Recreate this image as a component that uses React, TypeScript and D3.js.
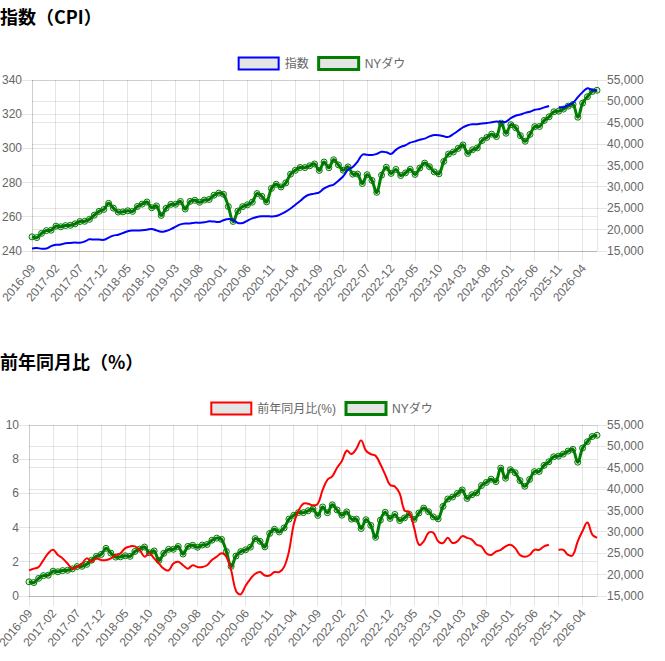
import React from 'react';
import * as d3 from 'd3';

// ---------- data ----------
const categories: string[] = d3.timeMonth
  .range(new Date(2016, 8, 1), new Date(2026, 7, 1))
  .map((d) => d3.timeFormat('%Y-%m')(d));

const xTickLabels: string[] = [
  '2016-09', '2017-02', '2017-07', '2017-12', '2018-05', '2018-10', '2019-03', '2019-08',
  '2020-01', '2020-06', '2020-11', '2021-04', '2021-09', '2022-02', '2022-07', '2022-12',
  '2023-05', '2023-10', '2024-03', '2024-08', '2025-01', '2025-06', '2025-11', '2026-04',
];

const cpiIndex: (number | null)[] = [
  241.428, 241.729, 241.353, 241.432,
  242.839, 243.603, 243.801, 244.524, 244.733, 244.955, 244.786, 245.519, 246.819, 246.663, 246.669, 246.524,
  247.867, 248.991, 249.554, 250.546, 251.588, 251.989, 252.006, 252.146, 252.439, 252.885, 252.038, 251.233,
  251.712, 252.776, 254.202, 255.548, 256.092, 256.143, 256.571, 256.558, 256.759, 257.346, 257.208, 256.974,
  257.971, 258.678, 258.115, 256.389, 256.394, 257.797, 259.101, 259.918, 260.28, 260.388, 260.229, 260.474,
  261.582, 263.014, 264.877, 267.054, 269.195, 271.696, 273.003, 273.567, 274.31, 276.589, 277.948, 278.802,
  281.148, 283.716, 287.504, 289.109, 292.296, 296.311, 296.276, 296.171, 296.808, 298.012, 297.711, 296.797,
  299.17, 300.84, 301.836, 303.363, 304.127, 305.109, 305.691, 307.026, 307.789, 307.671, 307.051, 306.746,
  308.417, 310.326, 312.332, 313.548, 314.069, 314.175, 314.54, 314.796, 315.301, 315.664, 315.493, 315.605,
  317.671, 319.082, 319.799, 320.795, 321.465, 322.561, 323.048, 323.976, 324.8, null, 324.122, 324.054,
  325.4, 326.7, 330.0, 332.9, 335.2, 334.1, 334.0,
];

const cpiYoY: (number | null)[] = [
  1.5, 1.6, 1.7, 2.1,
  2.5, 2.7, 2.4, 2.2, 1.9, 1.6, 1.7, 1.9, 2.2, 2.0, 2.2, 2.1,
  2.1, 2.2, 2.4, 2.5, 2.8, 2.9, 2.9, 2.7, 2.3, 2.5, 2.2, 1.9,
  1.6, 1.5, 1.9, 2.0, 1.8, 1.6, 1.8, 1.7, 1.7, 1.8, 2.1, 2.3,
  2.5, 2.3, 1.5, 0.3, 0.1, 0.6, 1.0, 1.3, 1.4, 1.2, 1.2, 1.4,
  1.4, 1.7, 2.6, 4.2, 5.0, 5.4, 5.4, 5.3, 5.4, 6.2, 6.8, 7.0,
  7.5, 7.9, 8.5, 8.3, 8.6, 9.1, 8.5, 8.3, 8.2, 7.7, 7.1, 6.5,
  6.4, 6.0, 5.0, 4.9, 4.0, 3.0, 3.2, 3.7, 3.7, 3.2, 3.1, 3.4,
  3.1, 3.2, 3.5, 3.4, 3.3, 3.0, 2.9, 2.5, 2.4, 2.6, 2.7, 2.9,
  3.0, 2.8, 2.4, 2.3, 2.4, 2.7, 2.7, 2.9, 3.0, null, 2.7, 2.7,
  2.4, 2.4, 3.2, 3.8, 4.3, 3.6, 3.4,
];

const nyDow: number[] = [
  18308, 18142, 19124, 19763,
  19864, 20812, 20663, 20941, 21009, 21350, 21891, 21948, 22405, 23377, 24272, 24719,
  26149, 25029, 24103, 24163, 24416, 24271, 25415, 25965, 26458, 25116, 25538, 23327,
  24999, 25916, 25929, 26593, 24815, 26600, 26864, 26403, 26917, 27046, 28051, 28538,
  28256, 25409, 21917, 24346, 25383, 25813, 26428, 28430, 27782, 26502, 29639, 30606,
  29983, 30932, 32982, 33875, 34529, 34503, 34935, 35361, 33844, 35820, 34484, 36338,
  35132, 33893, 34678, 32977, 32990, 30775, 32845, 31510, 28726, 32733, 34590, 33147,
  34086, 32657, 33274, 34098, 32908, 34408, 35560, 34722, 33508, 33053, 35951, 37690,
  38150, 38996, 39807, 37816, 38686, 39119, 40843, 41563, 42330, 41763, 44911, 42544,
  44545, 43841, 42002, 40669, 42270, 44095, 44131, 45545, 46398, 47563, 47716, 48200,
  48900, 49300, 46300, 49600, 51100, 52300, 52600,
];

const cpiTicks = [240, 260, 280, 300, 320, 340];
const yoyTicks = [0, 2, 4, 6, 8, 10];
const dowTicks = [15000, 20000, 25000, 30000, 35000, 40000, 45000, 50000, 55000];

// ---------- helpers ----------
type Area = { l: number; r: number; t: number; b: number };

// Chart.js v2 style spline (tension 0.4, control points capped to chart area)
const chartJsCurve = (area: Area, tension = 0.4) => (context: any) => {
  let pts: [number, number][] = [];
  return {
    areaStart() {},
    areaEnd() {},
    lineStart() {
      pts = [];
    },
    point(x: number, y: number) {
      pts.push([+x, +y]);
    },
    lineEnd() {
      const m = pts.length;
      if (!m) return;
      const cap = (x: number, y: number): [number, number] => [
        Math.max(area.l, Math.min(area.r, x)),
        Math.max(area.t, Math.min(area.b, y)),
      ];
      const cps = pts.map((cur, k) => {
        const prev = k > 0 ? pts[k - 1] : cur;
        const next = k < m - 1 ? pts[k + 1] : cur;
        const d01 = Math.hypot(cur[0] - prev[0], cur[1] - prev[1]);
        const d12 = Math.hypot(next[0] - cur[0], next[1] - cur[1]);
        let s01 = d01 / (d01 + d12);
        let s12 = d12 / (d01 + d12);
        if (!isFinite(s01)) s01 = 0;
        if (!isFinite(s12)) s12 = 0;
        const fa = tension * s01;
        const fb = tension * s12;
        return {
          pr: cap(cur[0] - fa * (next[0] - prev[0]), cur[1] - fa * (next[1] - prev[1])),
          nx: cap(cur[0] + fb * (next[0] - prev[0]), cur[1] + fb * (next[1] - prev[1])),
        };
      });
      context.moveTo(pts[0][0], pts[0][1]);
      for (let k = 1; k < m; k++) {
        context.bezierCurveTo(
          cps[k - 1].nx[0], cps[k - 1].nx[1],
          cps[k].pr[0], cps[k].pr[1],
          pts[k][0], pts[k][1]
        );
      }
    },
  };
};

const crisp = (v: number) => Math.round(v - 0.5) + 0.5;

const GRID = 'rgba(0,0,0,0.1)';
const TICK_FONT = '"Liberation Sans", Arial, "Noto Sans CJK JP", sans-serif';
const TICK_COLOR = '#666';

type LegendItem = { label: string; color: string; width: number; textW: number };

type PanelProps = {
  dy: number;
  title: string;
  plotLeft: number;
  leftTicks: number[];
  primary: (number | null)[];
  primaryColor: string;
  legend: LegendItem[];
};

function Panel({ dy, title, plotLeft, leftTicks, primary, primaryColor, legend }: PanelProps) {
  const top = 80 + dy;
  const bottom = 251 + dy;
  const right = 597;
  const area: Area = { l: plotLeft, r: right, t: top, b: bottom };

  const x = d3.scalePoint<string>().domain(categories).range([plotLeft, right]).padding(0);
  const yL = d3.scaleLinear().domain([leftTicks[0], leftTicks[leftTicks.length - 1]]).range([bottom, top]);
  const yR = d3.scaleLinear().domain([dowTicks[0], dowTicks[dowTicks.length - 1]]).range([bottom, top]);

  const lineL = d3
    .line<number | null>()
    .defined((d) => d !== null)
    .x((_, i) => x(categories[i]) as number)
    .y((d) => yL(d as number))
    .curve(chartJsCurve(area) as any);
  const lineR = d3
    .line<number>()
    .x((_, i) => x(categories[i]) as number)
    .y((d) => yR(d))
    .curve(chartJsCurve(area) as any);

  // legend layout (Chart.js v2: box 40, gap fontSize/2, item padding 10)
  const legendCenter = 322;
  const itemWidths = legend.map((it) => 40 + 6 + it.textW);
  const totalW = d3.sum(itemWidths) + 10 * (legend.length - 1);
  let lx = legendCenter - totalW / 2;
  const legendY = 57.5 + dy;
  const legendNodes = legend.map((it, i) => {
    const bx = lx;
    lx += itemWidths[i] + 10;
    return (
      <g key={it.label}>
        <rect x={bx} y={legendY} width={40} height={12} fill="rgba(0,0,0,0.1)" stroke={it.color} strokeWidth={it.width} />
        <text x={bx + 46} y={legendY + 6} dominantBaseline="central" fontSize={12} fill={TICK_COLOR} fontFamily={TICK_FONT}>
          {it.label}
        </text>
      </g>
    );
  });

  const rot = 50;

  return (
    <g>
      <text x={0} y={24 + dy} fontSize={18} fontWeight="bold" fill="#000" fontFamily='"Noto Sans CJK JP", sans-serif'>
        {title}
      </text>
      {legendNodes}

      {/* x grid lines + tick marks */}
      {xTickLabels.map((lab) => {
        const px = crisp(x(lab) as number);
        return <line key={'xg' + lab} x1={px} x2={px} y1={top} y2={bottom + 10} stroke={GRID} strokeWidth={1} />;
      })}
      {/* left y grid */}
      {leftTicks.map((t) => {
        const py = crisp(yL(t));
        return <line key={'lg' + t} x1={plotLeft - 10} x2={right} y1={py} y2={py} stroke={GRID} strokeWidth={1} />;
      })}
      {/* right y grid */}
      {dowTicks.map((t) => {
        const py = crisp(yR(t));
        return <line key={'rg' + t} x1={plotLeft} x2={right + 10} y1={py} y2={py} stroke={GRID} strokeWidth={1} />;
      })}
      {/* axis borders */}
      <line x1={plotLeft} x2={right} y1={crisp(bottom)} y2={crisp(bottom)} stroke={GRID} strokeWidth={1} />
      <line x1={crisp(plotLeft)} x2={crisp(plotLeft)} y1={top} y2={bottom} stroke={GRID} strokeWidth={1} />
      <line x1={crisp(right)} x2={crisp(right)} y1={top} y2={bottom} stroke={GRID} strokeWidth={1} />

      {/* tick labels */}
      {leftTicks.map((t) => (
        <text key={'lt' + t} x={plotLeft - 10} y={yL(t)} textAnchor="end" dominantBaseline="central" fontSize={12} fill={TICK_COLOR} fontFamily={TICK_FONT}>
          {String(t)}
        </text>
      ))}
      {dowTicks.map((t) => (
        <text key={'rt' + t} x={right + 10} y={yR(t)} textAnchor="start" dominantBaseline="central" fontSize={12} fill={TICK_COLOR} fontFamily={TICK_FONT}>
          {d3.format(',')(t)}
        </text>
      ))}
      {xTickLabels.map((lab) => (
        <text
          key={'xt' + lab}
          transform={`translate(${(x(lab) as number) + 1},${bottom + 15}) rotate(${-rot})`}
          textAnchor="end"
          dominantBaseline="central"
          fontSize={12}
          fill={TICK_COLOR}
          fontFamily={TICK_FONT}
        >
          {lab}
        </text>
      ))}

      {/* NY Dow (dataset 1, drawn first) */}
      <path d={lineR(nyDow) || ''} fill="none" stroke="green" strokeWidth={3} strokeLinejoin="round" />
      {nyDow.map((v, i) => (
        <circle key={'p' + i} cx={x(categories[i]) as number} cy={yR(v)} r={3} fill="rgba(0,0,0,0.1)" stroke="green" strokeWidth={1} />
      ))}

      {/* primary (dataset 0, on top) */}
      <path d={lineL(primary) || ''} fill="none" stroke={primaryColor} strokeWidth={2} strokeLinejoin="round" />
    </g>
  );
}

export default function App() {
  return (
    <svg
      width={665}
      height={661}
      style={{ position: 'absolute', left: 0, top: 0, background: '#fff' }}
    >
      <Panel
        dy={0}
        title="指数（CPI）"
        plotLeft={32}
        leftTicks={cpiTicks}
        primary={cpiIndex}
        primaryColor="blue"
        legend={[
          { label: '指数', color: 'blue', width: 2, textW: 24 },
          { label: 'NYダウ', color: 'green', width: 3, textW: 40.7 },
        ]}
      />
      <Panel
        dy={345}
        title="前年同月比（%）"
        plotLeft={29}
        leftTicks={yoyTicks}
        primary={cpiYoY}
        primaryColor="red"
        legend={[
          { label: '前年同月比(%)', color: 'red', width: 2, textW: 78.7 },
          { label: 'NYダウ', color: 'green', width: 3, textW: 40.7 },
        ]}
      />
    </svg>
  );
}
